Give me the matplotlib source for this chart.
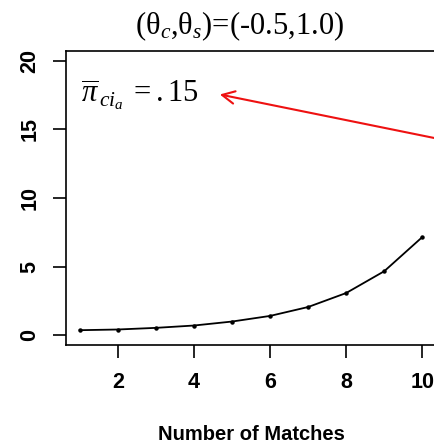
import matplotlib
matplotlib.use("Agg")
import matplotlib.pyplot as plt

matches = [1, 2, 3, 4, 5, 6, 7, 8, 9, 10]
values = [0.36, 0.41, 0.53, 0.70, 0.99, 1.40, 2.05, 3.07, 4.66, 7.15]
xticks = [2, 4, 6, 8, 10]
yticks = [0, 5, 10, 15, 20]

plt.rcParams['mathtext.fontset'] = 'custom'
plt.rcParams['mathtext.rm'] = 'Liberation Serif'
plt.rcParams['mathtext.it'] = 'Liberation Serif:italic'
plt.rcParams['mathtext.bf'] = 'Liberation Serif:bold'

W, H = 434, 444
fig = plt.figure(figsize=(W / 100, H / 100), dpi=100)
l, r, b, t = 66, 436, 345, 51
ax = fig.add_axes([l / W, 1 - b / H, (r - l) / W, (b - t) / H])

ax.plot(matches, values, color='black', lw=1.3, marker='o', ms=2.2)
ax.set_xlim(0.64, 10.36)
ax.set_ylim(-0.72, 20.72)
ax.set_xticks(xticks)
ax.set_yticks(yticks)
for s in ax.spines.values():
    s.set_linewidth(1.2)
ax.tick_params(direction='out', length=9.5, width=1.2)
ax.tick_params(axis='x', pad=10)
ax.tick_params(axis='y', pad=9)
for lab in ax.get_xticklabels():
    lab.set_fontfamily('Liberation Sans'); lab.set_fontweight('bold'); lab.set_fontsize(15.5)
for lab in ax.get_yticklabels():
    lab.set_fontfamily('Liberation Sans'); lab.set_fontweight('bold'); lab.set_fontsize(15.5)
    lab.set_rotation(90); lab.set_va('center')

fig.text(251 / W, 1 - 434 / H, 'Number of Matches', family='Liberation Sans',
         fontweight='bold', fontsize=14.5, ha='center', va='center')

fig.text(240 / W, 1 - 26 / H, r'(θ$_c$,θ$_s$)=(-0.5,1.0)', family='Liberation Serif',
         fontsize=22, ha='center', va='center')

ax.text(1.03, 17.5, r'$\overline{\pi}_{\,ci_a}\;=.15$', family='Liberation Serif',
        fontsize=22, ha='left', va='center')

ax.annotate('', xy=(4.68, 17.55), xytext=(10.36, 14.35),
            arrowprops=dict(arrowstyle='->,head_length=0.9,head_width=0.45',
                            color='#ee1111', lw=1.5, shrinkA=0, shrinkB=0))

fig.savefig('out.png', dpi=100)
